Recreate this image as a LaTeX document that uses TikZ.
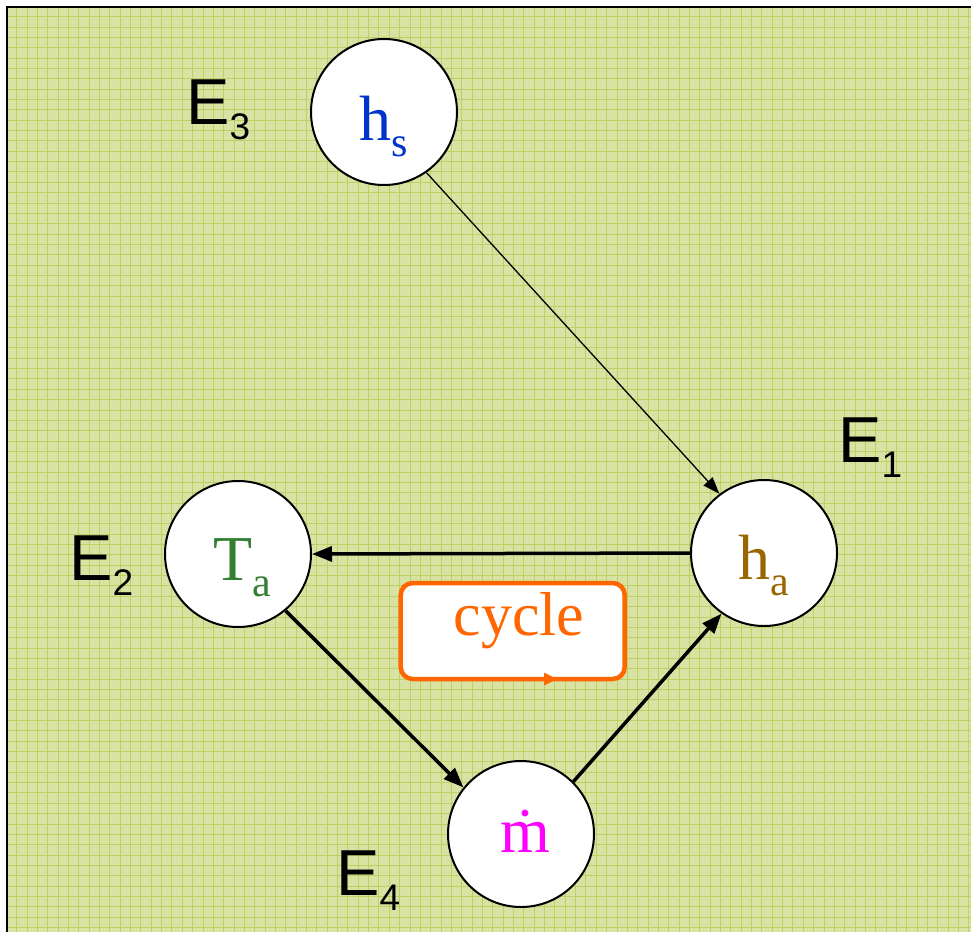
\documentclass[tikz,border=0pt]{standalone}
\usepackage{fontspec}
\setmainfont{Liberation Serif}
\newfontfamily\arialf{Liberation Sans}
\usetikzlibrary{arrows.meta}
\definecolor{bgc}{RGB}{216,226,163}
\definecolor{gridc}{RGB}{190,207,100}
\definecolor{hsblue}{RGB}{0,51,204}
\definecolor{tagreen}{RGB}{51,128,51}
\definecolor{habrown}{RGB}{153,102,0}
\definecolor{mmag}{RGB}{255,0,255}
\definecolor{cyorange}{RGB}{255,102,0}
\newcommand\Elabel[1]{{\arialf\fontsize{65}{65}\selectfont E\raisebox{-15pt}{\fontsize{37}{37}\selectfont #1}}}
\newcommand\Symb[2]{{\fontsize{64}{64}\selectfont #1\raisebox{-16pt}{\fontsize{42}{42}\selectfont #2}}}
\begin{document}
\begin{tikzpicture}[x=1pt,y=-1pt,
  state/.style={circle,draw=black,line width=2pt,fill=white,minimum size=146pt,inner sep=0pt},
  lbl/.style={anchor=base,inner sep=0pt},
  elbl/.style={anchor=base west,inner sep=0pt},
  thickarrow/.style={line width=3.5pt,-{Triangle[length=20pt,width=15pt]}},
  thinarrow/.style={line width=1.3pt,-{Triangle[length=17pt,width=12pt]}}]
\useasboundingbox (0,0) rectangle (971,932);
% background
\fill[bgc] (6,6) rectangle (971,932);
\foreach \i in {1,...,93} {\draw[gridc,line width=1pt] ({6.35+10.35*\i},6) -- ({6.35+10.35*\i},932);}
\foreach \i in {1,...,90} {\draw[gridc,line width=1pt] (6,{6.35+10.35*\i}) -- (971,{6.35+10.35*\i});}
\draw[line width=2.5pt] (7.2,932) -- (7.2,7.2) -- (971,7.2);
% circles
\node[state] (hs) at (384,112) {};
\node[state] (Ta) at (238,554) {};
\node[state] (ha) at (764,553) {};
\node[state] (m) at (521,834) {};
% circle texts
\node[lbl,text=hsblue] (hst) at (384,140) {\Symb{h}{s}};
\node[lbl,text=tagreen] (Tat) at (242,580) {\Symb{T}{a}};
\node[lbl,text=habrown] (hat) at (764,579) {\Symb{h}{a}};
\node[lbl,text=mmag] (mt) at (525,852) {\fontsize{64}{64}\selectfont ṁ};
% E labels
\node[elbl] (E3) at (186,124) {\Elabel{3}};
\node[elbl] (E1) at (838,462) {\Elabel{1}};
\node[elbl] (E2) at (69,580) {\Elabel{2}};
\node[elbl] (E4) at (336,895) {\Elabel{4}};
% cycle box
\node[draw=cyorange,line width=4.5pt,rounded corners=12pt,fill=white,minimum width=224pt,minimum height=96pt,inner sep=0pt] (cyc) at (512.7,631) {};
\node[lbl,text=cyorange] (cyct) at (519,635) {\fontsize{62}{62}\selectfont cycle};
\fill[cyorange] (544,672.5) -- (557,679) -- (544,685.5) -- cycle;
% arrows
\draw[thinarrow] (hs.-55) -- (ha.127);
\draw[thickarrow] (ha.west) -- (Ta.east);
\draw[thickarrow] (Ta.-50) -- (m.141);
\draw[thickarrow] (m.45) -- (ha.235);
\end{tikzpicture}
\end{document}
